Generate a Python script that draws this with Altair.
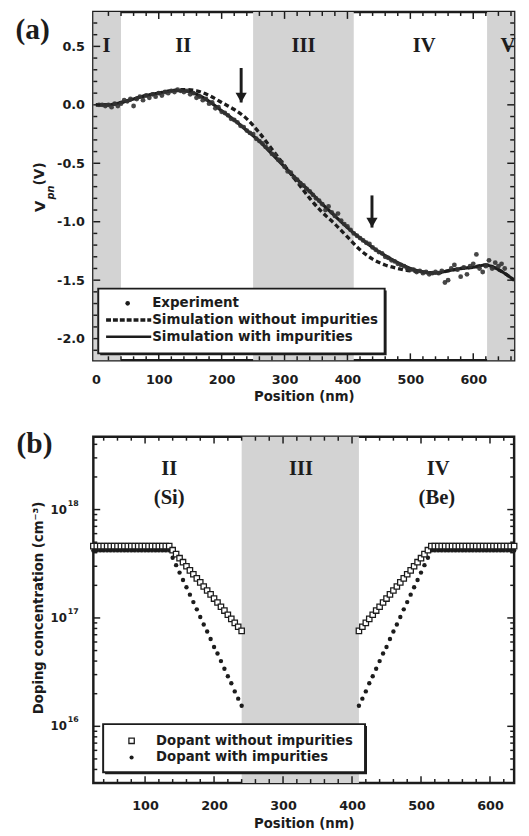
import altair as alt
import pandas as pd

# ---------------- Panel (a) data ----------------
sim_pos = [0, 20, 40, 60, 80, 100, 120, 140, 160, 180, 200, 220, 240, 260, 280, 300, 320,
           340, 360, 380, 400, 420, 440, 460, 480, 500, 520, 540, 560, 580, 600, 620, 640, 665]
sim_with = [0.00, 0.00, 0.02, 0.05, 0.08, 0.10, 0.12, 0.12, 0.09, 0.03, -0.05, -0.13, -0.22,
            -0.31, -0.42, -0.53, -0.64, -0.74, -0.85, -0.95, -1.05, -1.14, -1.22, -1.29, -1.35,
            -1.40, -1.43, -1.44, -1.42, -1.40, -1.39, -1.37, -1.41, -1.50]
sim_without = [0.00, 0.00, 0.02, 0.05, 0.08, 0.10, 0.12, 0.13, 0.12, 0.08, 0.02, -0.04, -0.12,
               -0.24, -0.38, -0.52, -0.66, -0.80, -0.92, -1.02, -1.13, -1.24, -1.32, -1.37, -1.40,
               -1.42, -1.43, -1.44, -1.42, -1.40, -1.39, -1.37, -1.41, -1.50]

exp_pos = list(range(5, 651, 5))
exp_val = [
    0.00, 0.00, -0.01, 0.00, -0.02, 0.01, -0.01, 0.01, 0.04, 0.03,
    0.05, -0.01, 0.05, 0.07, 0.04, 0.08, 0.06, 0.09, 0.07, 0.10,
    0.08, 0.11, 0.10, 0.12, 0.11, 0.13, 0.12, 0.11, 0.12, 0.09,
    0.10, 0.06, 0.07, 0.04, 0.05, 0.01, 0.02, -0.03, -0.02, -0.06,
    -0.07, -0.09, -0.12, -0.13, -0.15, -0.18, -0.19, -0.22, -0.24, -0.25,
    -0.29, -0.31, -0.33, -0.36, -0.38, -0.42, -0.43, -0.47, -0.49, -0.53,
    -0.57, -0.58, -0.62, -0.64, -0.67, -0.69, -0.72, -0.74, -0.77, -0.80,
    -0.82, -0.85, -0.90, -0.87, -0.92, -0.95, -0.93, -0.99, -1.02, -1.04,
    -1.07, -1.10, -1.12, -1.14, -1.16, -1.18, -1.19, -1.22, -1.24, -1.26,
    -1.27, -1.30, -1.31, -1.33, -1.34, -1.36, -1.37, -1.38, -1.40, -1.41,
    -1.41, -1.43, -1.42, -1.44, -1.43, -1.45, -1.44, -1.43, -1.44, -1.42,
    -1.52, -1.50, -1.40, -1.37, -1.41, -1.47, -1.39, -1.45, -1.38, -1.36,
    -1.28, -1.40, -1.43, -1.38, -1.33, -1.40, -1.35, -1.38, -1.36, -1.40,
]

regions_a_start = [-4, 250, 622]
regions_a_end = [40, 410, 665]
labels_a = ["I", "II", "III", "IV", "V"]
labels_a_pos = [17, 139, 330, 522, 655]

arrow_pos = [231, 439]
arrow_top = [0.315, -0.775]
arrow_tip = [0.02, -1.05]

# ---------------- Panel (b) data ----------------
dop_pos = list(range(25, 241, 5)) + list(range(410, 636, 5))
dop_without = [
    4.6e17, 4.6e17, 4.6e17, 4.6e17, 4.6e17, 4.6e17, 4.6e17, 4.6e17, 4.6e17, 4.6e17,
    4.6e17, 4.6e17, 4.6e17, 4.6e17, 4.6e17, 4.6e17, 4.6e17, 4.6e17, 4.6e17, 4.6e17,
    4.6e17, 4.6e17, 4.6e17,
    4.22e17, 3.88e17, 3.56e17, 3.27e17, 3.00e17, 2.75e17, 2.53e17, 2.32e17, 2.13e17, 1.95e17,
    1.79e17, 1.65e17, 1.51e17, 1.39e17, 1.27e17, 1.17e17, 1.07e17, 9.8e16, 9.0e16, 8.3e16, 7.6e16,
    7.6e16, 8.3e16, 9.0e16, 9.8e16, 1.07e17, 1.17e17, 1.27e17, 1.39e17, 1.51e17, 1.65e17,
    1.79e17, 1.95e17, 2.13e17, 2.32e17, 2.53e17, 2.75e17, 3.00e17, 3.27e17, 3.56e17, 3.88e17, 4.22e17,
    4.6e17, 4.6e17, 4.6e17, 4.6e17, 4.6e17, 4.6e17, 4.6e17, 4.6e17, 4.6e17, 4.6e17,
    4.6e17, 4.6e17, 4.6e17, 4.6e17, 4.6e17, 4.6e17, 4.6e17, 4.6e17, 4.6e17, 4.6e17,
    4.6e17, 4.6e17, 4.6e17, 4.6e17, 4.6e17,
]
dop_with = [
    4.2e17, 4.2e17, 4.2e17, 4.2e17, 4.2e17, 4.2e17, 4.2e17, 4.2e17, 4.2e17, 4.2e17,
    4.2e17, 4.2e17, 4.2e17, 4.2e17, 4.2e17, 4.2e17, 4.2e17, 4.2e17, 4.2e17, 4.2e17,
    4.2e17, 4.2e17, 4.2e17,
    3.59e17, 3.07e17, 2.62e17, 2.24e17, 1.92e17, 1.64e17, 1.40e17, 1.20e17, 1.02e17, 8.7e16,
    7.5e16, 6.4e16, 5.4e16, 4.7e16, 4.0e16, 3.4e16, 2.9e16, 2.5e16, 2.1e16, 1.8e16, 1.55e16,
    1.55e16, 1.8e16, 2.1e16, 2.5e16, 2.9e16, 3.4e16, 4.0e16, 4.7e16, 5.4e16, 6.4e16,
    7.5e16, 8.7e16, 1.02e17, 1.20e17, 1.40e17, 1.64e17, 1.92e17, 2.24e17, 2.62e17, 3.07e17, 3.59e17,
    4.2e17, 4.2e17, 4.2e17, 4.2e17, 4.2e17, 4.2e17, 4.2e17, 4.2e17, 4.2e17, 4.2e17,
    4.2e17, 4.2e17, 4.2e17, 4.2e17, 4.2e17, 4.2e17, 4.2e17, 4.2e17, 4.2e17, 4.2e17,
    4.2e17, 4.2e17, 4.2e17, 4.2e17, 4.2e17,
]
regions_b_start = [240]
regions_b_end = [410]
labels_b = ["II", "(Si)", "III", "IV", "(Be)"]
labels_b_pos = [135, 135, 326, 525, 523]
labels_b_row = [0, 1, 0, 0, 1]
ylab_b = [1e16, 1e17, 1e18]
ylab_b_exp = ["16", "17", "18"]

# ---------------- styling ----------------
W = 429
HA = 355
HB = 353
INK = "#1c1c1c"
SHADE = "#d3d3d3"
SANS = "DejaVu Sans"
SERIF = "Liberation Serif"
FS = 13

sxa = alt.Scale(domain=[-4, 665], nice=False, zero=False)
sya = alt.Scale(domain=[-2.185, 0.794], nice=False, zero=False)
sxb = alt.Scale(domain=[25, 635], nice=False, zero=False)
syb = alt.Scale(type="log", domain=[3e15, 4.7e18], nice=False)


def xaxis(vals, lp, tp):
    return alt.Axis(values=vals, ticks=False, domain=False, grid=False, format="d",
                    labelFont=SANS, labelFontWeight="bold", labelFontSize=FS, labelColor=INK,
                    labelPadding=lp, title="Position (nm)", titleFont=SANS,
                    titleFontWeight="bold", titleFontSize=13.5, titleColor=INK, titlePadding=tp)


ax_xa = xaxis([0, 100, 200, 300, 400, 500, 600], 14, 3)
ax_xb = xaxis([100, 200, 300, 400, 500, 600], 17, 4)
ax_ya = alt.Axis(values=[-2.0, -1.5, -1.0, -0.5, 0.0, 0.5], ticks=False, domain=False, grid=False,
                 labelExpr="replace(format(datum.value, '.1f'), '\u2212', '-')",
                 labelFont=SANS, labelFontWeight="bold", labelFontSize=FS, labelColor=INK,
                 labelPadding=9, title=None)


def frame_ticks(sx, sy, axx, axy, xmaj, xmin, ymaj, ymin, H):
    out = []
    for vals, L in ((xmaj, 7), (xmin, 4)):
        d = pd.DataFrame({"v": vals})
        base = alt.Chart(d).mark_rule(color=INK, strokeWidth=1.5)
        out.append(base.encode(x=alt.X("v:Q", scale=sx, axis=axx), y=alt.value(H), y2=alt.value(H - L)))
        out.append(base.encode(x=alt.X("v:Q", scale=sx, axis=axx), y=alt.value(0), y2=alt.value(L)))
    for vals, L in ((ymaj, 7), (ymin, 4)):
        d = pd.DataFrame({"v": vals})
        base = alt.Chart(d).mark_rule(color=INK, strokeWidth=1.5)
        out.append(base.encode(y=alt.Y("v:Q", scale=sy, axis=axy), x=alt.value(0), x2=alt.value(L)))
        out.append(base.encode(y=alt.Y("v:Q", scale=sy, axis=axy), x=alt.value(W), x2=alt.value(W - L)))
    return out


def txt(text, x, y, size=FS, font=SANS, weight="bold", align="left", angle=0, style="normal"):
    d = pd.DataFrame({"t": [text]})
    kw = dict(font=font, fontSize=size, fontWeight=weight, color=INK, align=align,
              baseline="middle", fontStyle=style)
    if angle:
        kw["angle"] = angle
    return alt.Chart(d).mark_text(**kw).encode(text="t:N", x=alt.value(x), y=alt.value(y))


def box(x1, y1, x2, y2):
    d = pd.DataFrame({"k": [0]})
    shadow = alt.Chart(d).mark_rect(color=INK).encode(
        x=alt.value(x1 + 2), x2=alt.value(x2 + 2), y=alt.value(y1 + 2), y2=alt.value(y2 + 2))
    main = alt.Chart(d).mark_rect(fill="white", stroke=INK, strokeWidth=2).encode(
        x=alt.value(x1), x2=alt.value(x2), y=alt.value(y1), y2=alt.value(y2))
    return [shadow, main]


# ---------------- Panel (a) ----------------
shade_a = alt.Chart(pd.DataFrame({"s": regions_a_start, "e": regions_a_end})).mark_rect(color=SHADE).encode(
    x=alt.X("s:Q", scale=sxa, axis=ax_xa), x2="e:Q", y=alt.value(0), y2=alt.value(HA))

sim_df = pd.DataFrame({"x": sim_pos, "with": sim_with, "without": sim_without})
line_without = alt.Chart(sim_df).mark_line(color=INK, strokeWidth=3.4, strokeDash=[5, 3],
                                           interpolate="monotone", clip=True).encode(
    x=alt.X("x:Q", scale=sxa, axis=ax_xa), y=alt.Y("without:Q", scale=sya, axis=ax_ya))
line_with = alt.Chart(sim_df).mark_line(color=INK, strokeWidth=3.2, interpolate="monotone", clip=True).encode(
    x=alt.X("x:Q", scale=sxa, axis=ax_xa), y=alt.Y("with:Q", scale=sya, axis=ax_ya))
exp_pts = alt.Chart(pd.DataFrame({"x": exp_pos, "v": exp_val})).mark_circle(
    color="#333333", size=24, opacity=0.9).encode(
    x=alt.X("x:Q", scale=sxa, axis=ax_xa), y=alt.Y("v:Q", scale=sya, axis=ax_ya))

arr_df = pd.DataFrame({"x": arrow_pos, "top": arrow_top, "tip": arrow_tip})
arr_shaft = alt.Chart(arr_df).mark_rule(color=INK, strokeWidth=3).encode(
    x=alt.X("x:Q", scale=sxa, axis=ax_xa), y=alt.Y("top:Q", scale=sya, axis=ax_ya), y2="tip:Q")
arr_head = alt.Chart(arr_df).mark_point(shape="triangle-down", filled=True, color=INK, size=130,
                                        opacity=1, yOffset=-5).encode(
    x=alt.X("x:Q", scale=sxa, axis=ax_xa), y=alt.Y("tip:Q", scale=sya, axis=ax_ya))

reg_a = alt.Chart(pd.DataFrame({"t": labels_a, "x": labels_a_pos})).mark_text(
    font=SERIF, fontSize=21, fontWeight="bold", color=INK, baseline="middle").encode(
    x=alt.X("x:Q", scale=sxa, axis=ax_xa), y=alt.value(35), text="t:N")

minor_ya = [v / 10 for v in range(-21, 8) if v % 5]
ticks_a = frame_ticks(sxa, sya, ax_xa, ax_ya,
                      [100, 200, 300, 400, 500, 600],
                      [v for v in range(20, 665, 20) if v % 100],
                      [-2.0, -1.5, -1.0, -0.5, 0.0, 0.5],
                      minor_ya, HA)

leg_a = box(5, 282, 297, 348)
leg_a += [
    alt.Chart(pd.DataFrame({"k": [0]})).mark_circle(color=INK, size=22, opacity=1).encode(
        x=alt.value(35), y=alt.value(297)),
    alt.Chart(pd.DataFrame({"k": [0]})).mark_rule(color=INK, strokeWidth=3.4, strokeDash=[5, 2]).encode(
        x=alt.value(13), x2=alt.value(59), y=alt.value(314)),
    alt.Chart(pd.DataFrame({"k": [0]})).mark_rule(color=INK, strokeWidth=2.6).encode(
        x=alt.value(13), x2=alt.value(59), y=alt.value(331)),
    txt("Experiment", 60, 297, size=13.7),
    txt("Simulation without impurities", 60, 314, size=13.7),
    txt("Simulation with impurities", 60, 331, size=13.7),
]

ytitle_a = [
    txt("V", -54, 198, size=15, align="center", angle=270),
    txt("pn", -43, 184, size=10, align="center", angle=270, style="italic"),
    txt("(V)", -54, 165, size=14, align="center", angle=270),
]
tag_a = txt("(a)", -62, 18, size=30, font=SERIF, align="center")

panel_a = alt.layer(shade_a, line_without, line_with, exp_pts, arr_shaft, arr_head, reg_a,
                    *ticks_a, *leg_a, *ytitle_a, tag_a).properties(width=W, height=HA)

# ---------------- Panel (b) ----------------
shade_b = alt.Chart(pd.DataFrame({"s": regions_b_start, "e": regions_b_end})).mark_rect(color=SHADE).encode(
    x=alt.X("s:Q", scale=sxb, axis=ax_xb), x2="e:Q", y=alt.value(0), y2=alt.value(HB))

dop_df = pd.DataFrame({"x": dop_pos, "without": dop_without, "with": dop_with})
dots_b = alt.Chart(dop_df).mark_circle(color=INK, size=20, opacity=1).encode(
    x=alt.X("x:Q", scale=sxb, axis=ax_xb), y=alt.Y("with:Q", scale=syb, axis=None))
squares_b = alt.Chart(dop_df).mark_point(shape="square", filled=True, fill="white", stroke=INK,
                                         strokeWidth=1.3, size=30, opacity=1).encode(
    x=alt.X("x:Q", scale=sxb, axis=ax_xb), y=alt.Y("without:Q", scale=syb, axis=None))

reg_b_df = pd.DataFrame({"t": labels_b, "x": labels_b_pos, "r": labels_b_row})
reg_b1 = alt.Chart(reg_b_df[reg_b_df.r == 0]).mark_text(
    font=SERIF, fontSize=21, fontWeight="bold", color=INK, baseline="middle").encode(
    x=alt.X("x:Q", scale=sxb, axis=ax_xb), y=alt.value(33), text="t:N")
reg_b2 = alt.Chart(reg_b_df[reg_b_df.r == 1]).mark_text(
    font=SERIF, fontSize=21, fontWeight="bold", color=INK, baseline="middle").encode(
    x=alt.X("x:Q", scale=sxb, axis=ax_xb), y=alt.value(63), text="t:N")

minor_b = [m * 10 ** e for e in (15, 16, 17, 18) for m in range(2, 10)
           if 3e15 < m * 10 ** e < 4.7e18]
ticks_b = frame_ticks(sxb, syb, ax_xb, None,
                      [100, 200, 300, 400, 500, 600],
                      [v for v in range(40, 635, 20) if v % 100],
                      [1e16, 1e17, 1e18], minor_b, HB)

ylab_df = pd.DataFrame({"v": ylab_b, "e": ylab_b_exp, "b": ["10", "10", "10"]})
ylab_base = alt.Chart(ylab_df).mark_text(font=SANS, fontSize=12, fontWeight="bold", color=INK,
                                         align="right", baseline="middle").encode(
    y=alt.Y("v:Q", scale=syb, axis=None), x=alt.value(-27), text="b:N")
ylab_exp = alt.Chart(ylab_df).mark_text(font=SANS, fontSize=8, fontWeight="bold", color=INK,
                                        align="left", baseline="middle", dy=-6).encode(
    y=alt.Y("v:Q", scale=syb, axis=None), x=alt.value(-26), text="e:N")

leg_b = box(10, 293, 277, 342)
leg_b += [
    alt.Chart(pd.DataFrame({"k": [0]})).mark_point(shape="square", filled=True, fill="white", stroke=INK,
                                                   strokeWidth=1.3, size=30, opacity=1).encode(
        x=alt.value(39), y=alt.value(310)),
    alt.Chart(pd.DataFrame({"k": [0]})).mark_circle(color=INK, size=18, opacity=1).encode(
        x=alt.value(39), y=alt.value(327)),
    txt("Dopant without impurities", 64, 310, size=13.5),
    txt("Dopant with impurities", 64, 327, size=13.5),
]

ytitle_b = txt("Doping concentration (cm\u207b\u00b3)", -55, HB / 2 - 2, size=13.5, align="center", angle=270)
tag_b = txt("(b)", -60, 8, size=30, font=SERIF, align="center")

panel_b = alt.layer(shade_b, dots_b, squares_b, reg_b1, reg_b2, *ticks_b, ylab_base, ylab_exp,
                    *leg_b, ytitle_b, tag_b).properties(width=W, height=HB)

chart = alt.vconcat(panel_a, panel_b, spacing=24).properties(
    padding={"left": 6, "top": -6, "right": 0, "bottom": 0}, background="white"
).configure_view(stroke=INK, strokeWidth=2.5)

chart.save("out.html", embed_options={"renderer": "svg", "actions": False})
